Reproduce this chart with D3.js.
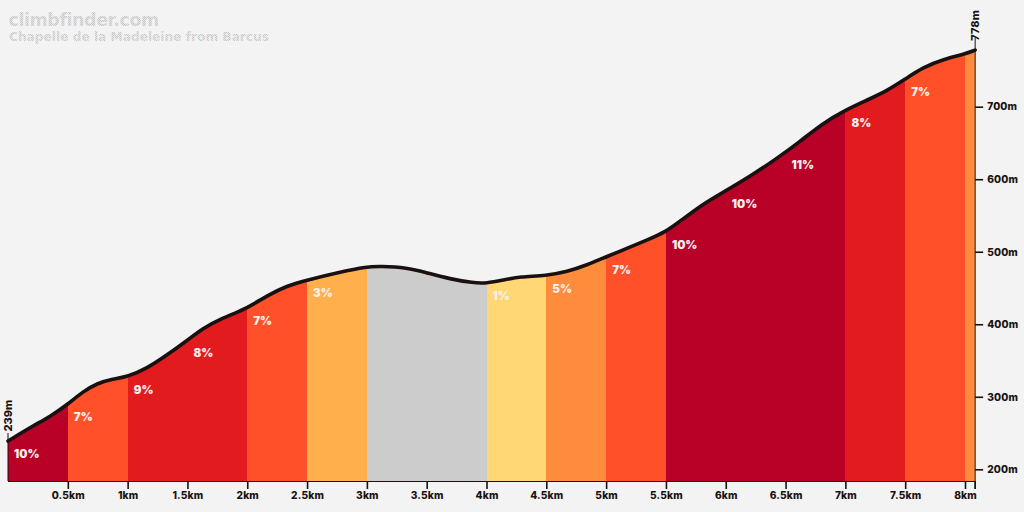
<!DOCTYPE html>
<html><head><meta charset="utf-8">
<script src="https://cdn.jsdelivr.net/npm/d3@7"></script>
<style>
html,body{margin:0;padding:0;background:#f3f3f3;overflow:hidden}
svg{display:block}
text{font-family:Inter,"Noto Sans",sans-serif;font-weight:800}
.axis .domain{stroke:#1a1212;stroke-width:1}
.axis .tick line{stroke:#1a1212;stroke-width:1.6}
.axis .tick text{fill:#1a1212;font-family:Inter,sans-serif;font-size:10.2px;font-weight:800;letter-spacing:.15px}
</style></head><body>
<svg id="c" width="1024" height="512"></svg>
<script>
const siteTitle="climbfinder.com";
const climbTitle="Chapelle de la Madeleine from Barcus";
const distKm=[0,.21,.35,.5,.625,.744,.878,1,1.16,1.33,1.5,1.63,1.77,2,2.165,2.33,2.5,2.776,3,3.11,3.336,3.5,3.696,3.888,4,4.14,4.28,4.5,4.674,4.84,5,5.175,5.34,5.5,5.62,5.81,6.01,6.23,6.43,6.62,6.81,7,7.18,7.35,7.5,7.65,7.82,8,8.085];
const elevM=[239,260,272.5,289.6,307,318.6,324.5,327.7,339,357.6,378,394.4,407,422,439.4,453,461,472,479.4,480,478,471,462.4,457,456.5,461,465.6,467,472.5,481.7,493,504.7,516,527.6,542.4,566,585,606.8,629,651.8,677,695.4,709,722,738,754.3,765.4,772.5,778];
const segStart=[0,.5,1,2,2.5,3,4,4.5,5,5.5,7,7.5,8];
const segEnd=[.5,1,2,2.5,3,4,4.5,5,5.5,7,7.5,8,8.085];
const segColor=["#b90026","#ff502a","#e21c1e","#ff502a","#ffb04c","#cccccc","#ffd775","#ff8c3c","#ff502a","#b90026","#e21c1e","#ff502a","#ff8c3c"];
const gradeKm=[0,.5,1,1.5,2,2.5,4,4.5,5,5.5,6,6.5,7,7.5];
const gradeLabel=["10%","7%","9%","8%","7%","3%","1%","5%","7%","10%","10%","11%","8%","7%"];
const xTicks=[.5,1,1.5,2,2.5,3,3.5,4,4.5,5,5.5,6,6.5,7,7.5,8];
const yTicks=[200,300,400,500,600,700];
const startElev=239,endElev=778,endKm=8.085;

const x=d3.scaleLinear().domain([0,8]).range([8,965]);
const y=d3.scaleLinear().domain([200,700]).range([469.3,106.7]);
const floorY=481;
const svg=d3.select("#c");
const defs=svg.append("defs");
const pat=defs.append("pattern").attr("id","dots").attr("patternUnits","userSpaceOnUse").attr("width",2).attr("height",2);
pat.append("rect").attr("width",2).attr("height",2).attr("fill","#e6e6e6");
pat.append("rect").attr("width",1).attr("height",1).attr("fill","#c6c6c6");
pat.append("rect").attr("x",1).attr("y",1).attr("width",1).attr("height",1).attr("fill","#c6c6c6");

const pts=distKm.map((d,i)=>[d,elevM[i]]);
const curve=d3.curveBasis;
const area=d3.area().x(d=>x(d[0])).y0(floorY).y1(d=>y(d[1])).curve(curve);
const line=d3.line().x(d=>x(d[0])).y(d=>y(d[1])).curve(curve);
defs.append("clipPath").attr("id","prof").append("path").attr("d",area(pts));

svg.append("g").attr("clip-path","url(#prof)").selectAll("rect").data(segStart).join("rect")
 .attr("x",d=>x(d)).attr("width",(d,i)=>x(segEnd[i])-x(d))
 .attr("y",30).attr("height",floorY-30).attr("fill",(d,i)=>segColor[i]).attr("shape-rendering","crispEdges");

// axes
const xAxis=d3.axisBottom(x).tickValues(xTicks).tickSize(8).tickPadding(3).tickFormat(d=>d+"km");
svg.append("g").attr("class","axis").attr("transform",`translate(0,${floorY})`).call(xAxis)
 .call(g=>g.select(".domain").attr("d",`M${x(0)},0.5H${x(endKm)}`));
const yAxis=d3.axisRight(y).tickValues(yTicks).tickSize(8).tickPadding(4).tickFormat(d=>d+"m");
svg.append("g").attr("class","axis").attr("transform",`translate(${x(endKm)},0)`).call(yAxis)
 .call(g=>g.select(".domain").attr("d",`M0,${y(endElev)-12}V${floorY+8}`));
svg.append("line").attr("x1",x(endKm)).attr("x2",x(endKm)).attr("y1",floorY).attr("y2",floorY+8).attr("stroke","#1a1212").attr("stroke-width",1.6);
svg.append("line").attr("x1",x(0)).attr("x2",x(0)).attr("y1",y(startElev)-8).attr("y2",floorY).attr("stroke","#1a1212").attr("stroke-width",1);

svg.append("path").attr("d",line(pts)).attr("fill","none").attr("stroke","#1a1010").attr("stroke-width",3.6).attr("stroke-linecap","round");

// end labels
const endLab=(k,e,t)=>svg.append("text").attr("transform",`translate(${x(k)+4},${y(e)-9.5}) rotate(-90)`).attr("font-size",11).attr("fill","#1a1212").text(t);
endLab(0,startElev,startElev+"m");
endLab(endKm,endElev,endElev+"m");

// grade labels
const elevAt=k=>{const i=d3.bisectLeft(distKm,k);if(i<=0)return elevM[0];const t=(k-distKm[i-1])/(distKm[i]-distKm[i-1]);return elevM[i-1]+t*(elevM[i]-elevM[i-1]);};
svg.append("g").selectAll("text").data(gradeKm).join("text")
 .attr("x",d=>x(d)+6).attr("y",d=>y(elevAt(d))+17)
 .attr("font-size",11.5).style("font-weight",900).attr("fill","#f6f0ee").text((d,i)=>gradeLabel[i]);

// titles
svg.append("text").attr("x",8.5).attr("y",26).attr("font-size",17.5).attr("letter-spacing",-.45).attr("fill","url(#dots)").style("font-family","'DejaVu Sans',sans-serif").style("font-weight",700).text(siteTitle);
svg.append("text").attr("x",9).attr("y",41).attr("font-size",12.2).attr("fill","url(#dots)").style("font-family","'DejaVu Sans',sans-serif").style("font-weight",700).text(climbTitle);
</script></body></html>
